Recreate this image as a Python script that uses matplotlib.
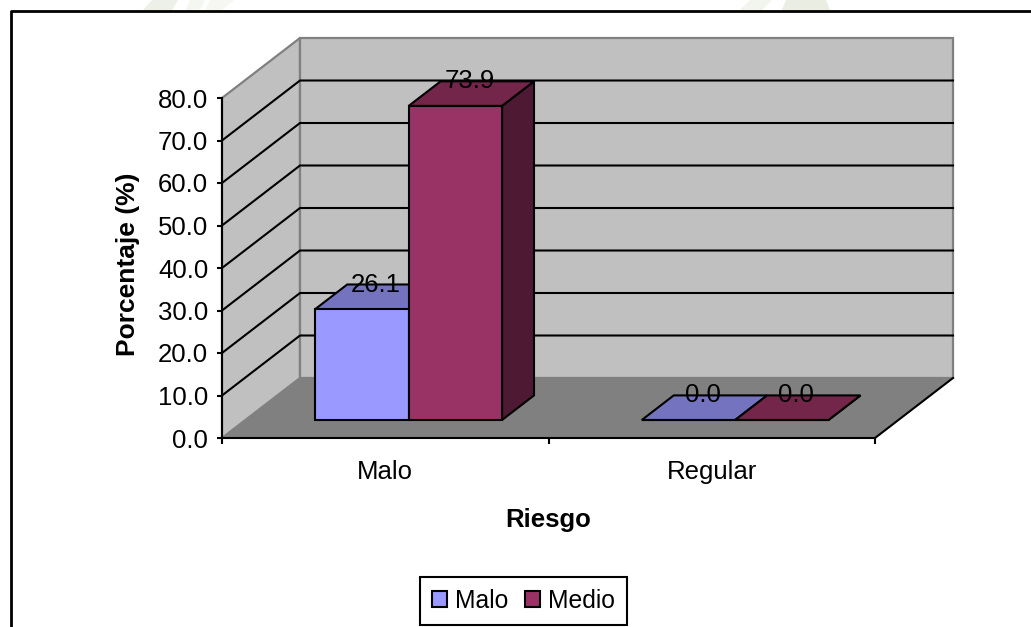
import matplotlib
matplotlib.use('Agg')
from matplotlib import pyplot as plt
from matplotlib.patches import Polygon, Rectangle
from matplotlib.ticker import FixedLocator, NullFormatter

categorias = ["Malo", "Regular"]
series = ["Malo", "Medio"]
valores_malo = [26.1, 0.0]
valores_medio = [73.9, 0.0]
marcas_y = [0, 10, 20, 30, 40, 50, 60, 70, 80]

color_frente = ["#9999FF", "#993366"]
color_arriba = ["#7373BF", "#732649"]
color_lado = ["#4D4D80", "#4D1933"]

plt.rcParams['font.family'] = ['Liberation Sans', 'DejaVu Sans']
letra = 18.5

W, H = 1031, 627
fig = plt.figure(figsize=(W / 100, H / 100), dpi=100, facecolor="white")

# restos del sello de agua sobre el marco
for xs, c in [([143, 152, 178, 172], "#EDF0E7"), ([186, 190, 205, 200], "#F4F6F0"), ([205, 210, 234, 222], "#F6F7F3"),
              ([740, 750, 772, 762], "#F2F4EE"), ([782, 786, 826, 830], "#E9EDE2")]:
    fig.add_artist(Polygon([(xs[0] / W, 1 - 10 / H), (xs[1] / W, 1), (xs[2] / W, 1), (xs[3] / W, 1 - 10 / H)],
                           closed=True, transform=fig.transFigure, facecolor=c, edgecolor="none"))

# plano frontal del grafico, el fondo 3D se desplaza desde aqui
ax = fig.add_axes([222 / W, 1 - 438 / H, 653 / W, 340 / H])
ax.set_xlim(0, 2)
ax.set_ylim(0, 80)
ax.patch.set_visible(False)


def cara(puntos, color, **kw):
    # puntos en datos (x, y, d), d es la profundidad: 0 frente, 1 fondo
    tr = ax.transData
    pix = [tr.transform((x, y)) + (78 * d, 60 * d) for x, y, d in puntos]
    ax.add_patch(Polygon(pix, closed=True, transform=None, facecolor=color, clip_on=False, **kw))


# paredes y piso
cara([(0, 0, 0), (0, 80, 0), (0, 80, 1), (0, 0, 1)], "#C0C0C0", edgecolor="#808080", linewidth=1.6, zorder=1)
cara([(0, 0, 1), (0, 80, 1), (2, 80, 1), (2, 0, 1)], "#C0C0C0", edgecolor="#808080", linewidth=1.6, zorder=1)
cara([(0, 0, 0), (0, 0, 1), (2, 0, 1), (2, 0, 0)], "#808080", edgecolor="none", zorder=1)

# lineas de division en pared lateral y fondo
for v in marcas_y[1:-1]:
    a = ax.transData.transform((0, v))
    b = a + (78, 60)
    c = ax.transData.transform((2, v)) + (78, 60)
    ax.plot([a[0], b[0], c[0]], [a[1], b[1], c[1]], transform=None, color="black", lw=1.5, zorder=2, clip_on=False)

# borde del piso a la derecha
p = ax.transData.transform((2, 0))
ax.plot([p[0], p[0] + 78], [p[1], p[1] + 60], transform=None, color="black", lw=1.5, zorder=2, clip_on=False)

ancho = 0.286
d0, d1 = 0.3, 0.71
for i, vals in enumerate([valores_malo, valores_medio]):
    for j, v in enumerate(vals):
        x0 = j + 0.5 - ancho + i * ancho
        x1 = x0 + ancho
        estilo = dict(edgecolor="black", linewidth=1.5, joinstyle="miter")
        z = 4 + i
        cara([(x1, 0, d0), (x1, 0, d1), (x1, v, d1), (x1, v, d0)], color_lado[i], zorder=z, **estilo)
        cara([(x0, v, d0), (x0, v, d1), (x1, v, d1), (x1, v, d0)], color_arriba[i], zorder=z, **estilo)
        cara([(x0, 0, d0), (x0, v, d0), (x1, v, d0), (x1, 0, d0)], color_frente[i], zorder=z, **estilo)
        ax.annotate(f"{v:.1f}", ((x0 + x1) / 2, v), xytext=(37.5, 42.5), textcoords="offset pixels",
                    ha="center", va="center", fontsize=letra, color="black", zorder=8, annotation_clip=False)

# ejes
for lado in ["top", "right"]:
    ax.spines[lado].set_visible(False)
for lado in ["left", "bottom"]:
    ax.spines[lado].set_linewidth(1.5)
    ax.spines[lado].set_zorder(3)
ax.set_yticks(marcas_y)
ax.set_yticklabels([f"{v:.1f}" for v in marcas_y], fontsize=letra)
ax.set_xticks([0, 1, 2])
ax.xaxis.set_major_formatter(NullFormatter())
ax.xaxis.set_minor_locator(FixedLocator([0.5, 1.5]))
ax.set_xticklabels(categorias, minor=True, fontsize=letra)
ax.tick_params(axis="y", which="major", length=3.6, width=1.5, direction="out", pad=6.3)
ax.tick_params(axis="x", which="major", length=4.3, width=1.5, direction="out")
ax.tick_params(axis="x", which="minor", length=0, pad=16)
ax.set_xlabel("Riesgo", fontsize=letra, fontweight="bold", labelpad=17)
ax.set_ylabel("Porcentaje (%)", fontsize=19, fontweight="bold", labelpad=13, y=0.51)

# marco exterior, sin lado derecho ni inferior
fig.add_artist(plt.Line2D([10.5 / W, 10.5 / W, 1], [0, 1 - 11 / H, 1 - 11 / H], color="black", lw=2))

handles = [Rectangle((0, 0), 1, 1, facecolor=c, edgecolor="black", linewidth=1.5) for c in color_frente]
ley = fig.legend(handles, series, loc="lower left", bbox_to_anchor=(420 / W, 1 - 625 / H), bbox_transform=fig.transFigure,
                 ncol=2, fontsize=17.8, frameon=True, fancybox=False, edgecolor="black", framealpha=1,
                 handlelength=0.62, handleheight=0.62, handletextpad=0.3, columnspacing=0.69, borderaxespad=0,
                 borderpad=0.48)
ley.get_frame().set_linewidth(1.5)

fig.savefig("out.png", dpi=100)
